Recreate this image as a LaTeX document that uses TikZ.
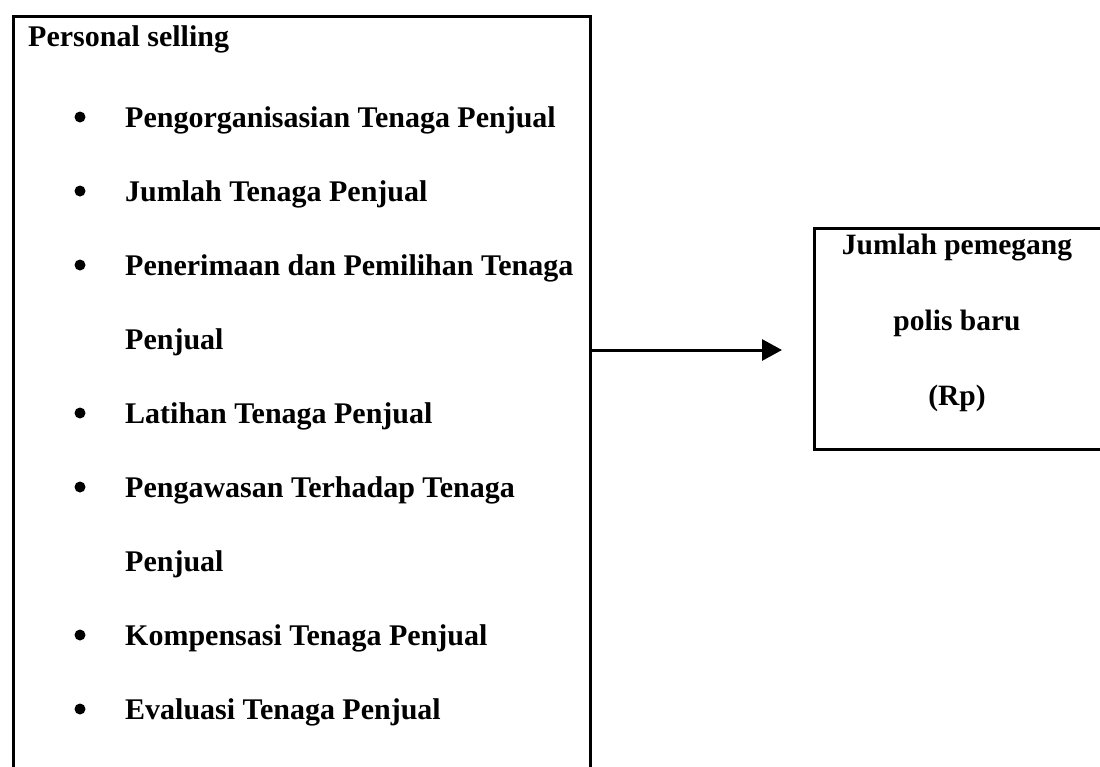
\documentclass[tikz,border=0pt]{standalone}
\usepackage{fontspec}
\setmainfont{Liberation Serif}
\usetikzlibrary{arrows.meta}
\begin{document}
\begin{tikzpicture}[x=1pt, y=-1pt,
  kotak/.style={draw, line width=3pt, inner sep=0pt, anchor=north west},
  teks/.style={font=\fontsize{30}{36}\selectfont\bfseries, inner sep=0pt, anchor=base west},
  tengah/.style={font=\fontsize{29.5}{36}\selectfont\bfseries, inner sep=0pt, anchor=base},
  titik/.style={circle, fill, inner sep=0pt, minimum size=11pt},
  panah/.style={line width=3pt, -{Triangle[length=20pt, width=21pt]}}]
  \clip (0,0) rectangle (1100,766);
  % kotak
  \node (psbox) [kotak, minimum width=577pt, minimum height=800pt] at (12,15) {};
  \node (polis) [kotak, minimum width=320pt, minimum height=221pt] at (813,227) {};
  % teks kiri
  \node (ps) [teks] at (28,46) {Personal selling};
  \node (i1) [teks] at (125,127) {Pengorganisasian Tenaga Penjual};
  \node (i2) [teks] at (125,201) {Jumlah Tenaga Penjual};
  \node (i3) [teks] at (125,275) {Penerimaan dan Pemilihan Tenaga};
  \node (i3b) [teks] at (125,349) {Penjual};
  \node (i4) [teks] at (125,423) {Latihan Tenaga Penjual};
  \node (i5) [teks] at (125,497) {Pengawasan Terhadap Tenaga};
  \node (i5b) [teks] at (125,571) {Penjual};
  \node (i6) [teks] at (125,645) {Kompensasi Tenaga Penjual};
  \node (i7) [teks] at (125,719) {Evaluasi Tenaga Penjual};
  % titik
  \foreach \n/\y in {b1/127, b2/201, b3/275, b4/423, b5/497, b6/645, b7/719}
    \node (\n) [titik] at (80,\y-10) {};
  % teks kanan
  \node (j1) [tengah] at (957,254) {Jumlah pemegang};
  \node (j2) [tengah] at (957,330) {polis baru};
  \node (j3) [tengah] at (957,405) {(Rp)};
  % panah
  \coordinate (tip) at (782,350);
  \draw [panah] (psbox.east |- tip) -- (tip);
\end{tikzpicture}
\end{document}
